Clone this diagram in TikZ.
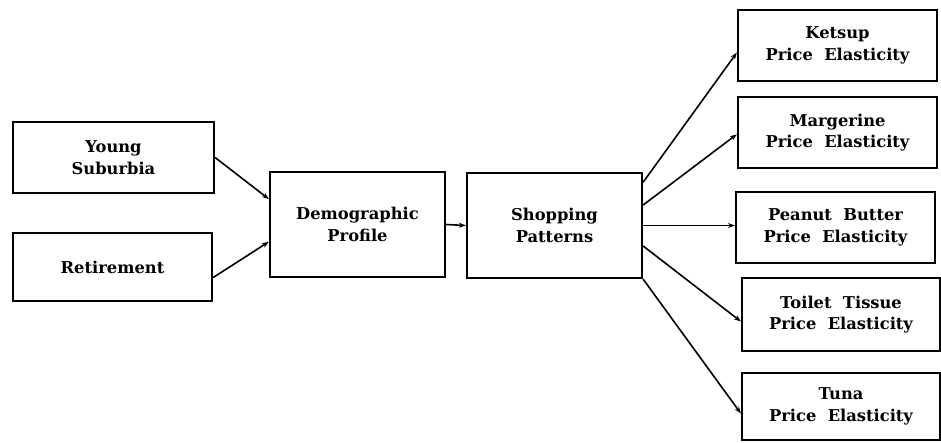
\documentclass[tikz,border=0pt]{standalone}
\usepackage{fontspec}
\setmainfont{DejaVu Serif}
\usetikzlibrary{arrows.meta}
\tikzset{
  box/.style={draw, line width=2.2pt, align=center, font=\bfseries\fontsize{16.3}{21.5}\selectfont, inner sep=2pt},
  link/.style={line width=1.6pt, -{Stealth[length=7pt,width=5pt]}}
}
\begin{document}
\begin{tikzpicture}[x=1pt, y=-1pt]
  \useasboundingbox (0,0) rectangle (941,442);
  % 左の箱
  \node[box, minimum width=201pt, minimum height=71pt] (young) at (113.5,157.5) {Young\\Suburbia};
  \node[box, minimum width=199pt, minimum height=68pt] (retire) at (112.5,267) {Retirement};

  % 中央の箱
  \node[box, minimum width=175pt, minimum height=105pt] (demo) at (357.5,224.5) {Demographic\\Profile};
  \node[box, minimum width=175pt, minimum height=105pt] (shop) at (554.5,225.5) {Shopping\\Patterns};

  % 右の箱
  \node[box, minimum width=199pt, minimum height=71pt] (ketsup) at (837.5,45.5) {Ketsup\\Price~~Elasticity};
  \node[box, minimum width=199pt, minimum height=71pt] (marg) at (837.5,132.5) {Margerine\\Price~~Elasticity};
  \node[box, minimum width=199pt, minimum height=71pt] (peanut) at (835.5,227.5) {Peanut~~Butter\\Price~~Elasticity};
  \node[box, minimum width=198pt, minimum height=73pt] (toilet) at (841,314.5) {Toilet~~Tissue\\Price~~Elasticity};
  \node[box, minimum width=198pt, minimum height=67pt] (tuna) at (841,406.5) {Tuna\\Price~~Elasticity};

  % 矢印
  \draw[link] (young.east) -- (demo.164);
  \draw[link] (retire.-6) -- (demo.191);
  \draw[link] (demo.east) -- (shop.west);
  \draw[link] (shop.26) -- (ketsup.184);
  \draw[link] (shop.13) -- (marg.181);
  \draw[link] (shop.east) -- (shop.east -| peanut.west);
  \draw[link] (shop.-13) -- (toilet.184);
  \draw[link] (shop.south east) -- (tuna.184);
\end{tikzpicture}
\end{document}
